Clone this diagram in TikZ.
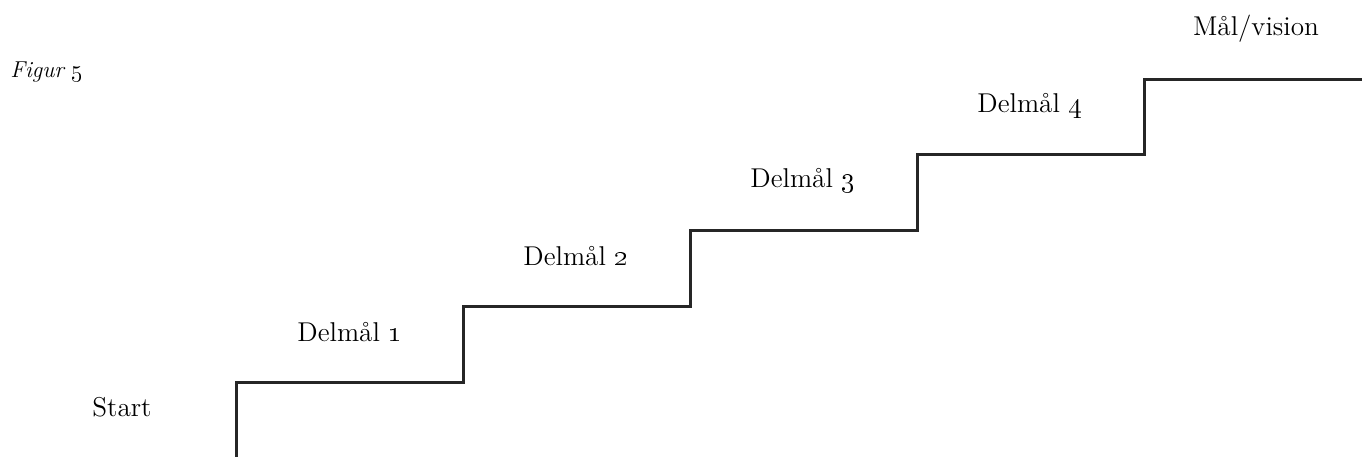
\documentclass[tikz,border=0pt]{standalone}
\begin{document}
\begin{tikzpicture}[x=0.5pt,y=-0.5pt,
  lbl/.style={inner sep=0pt,font=\fontsize{13.6}{16}\selectfont},
  stair/.style={line width=1.5pt,color=black!85,line join=miter}]
\useasboundingbox (0,0) rectangle (1362,456);
\node[inner sep=0pt,anchor=west,font=\fontsize{11.5}{14}\selectfont\itshape] (fig) at (10,72) {Figur \oldstylenums{5}};
\coordinate (s0) at (236,458);
\coordinate (s1) at (236,382);
\coordinate (s2) at (463,382);
\coordinate (s3) at (463,306);
\coordinate (s4) at (690,306);
\coordinate (s5) at (690,230);
\coordinate (s6) at (917,230);
\coordinate (s7) at (917,154);
\coordinate (s8) at (1144,154);
\coordinate (s9) at (1144,79);
\coordinate (s10) at (1364,79);
\draw[stair] (s0) -- (s1) -- (s2) -- (s3) -- (s4) -- (s5) -- (s6) -- (s7) -- (s8) -- (s9) -- (s10);
\node[lbl] (start) at (122,407) {Start};
\node[lbl] (d1) at (350,332) {Delmål \oldstylenums{1}};
\node[lbl] (d2) at (576,256) {Delmål \oldstylenums{2}};
\node[lbl] (d3) at (803,181) {Delmål \oldstylenums{3}};
\node[lbl] (d4) at (1030,106) {Delmål \oldstylenums{4}};
\node[lbl] (goal) at (1256,29) {Mål/vision};
\end{tikzpicture}
\end{document}
